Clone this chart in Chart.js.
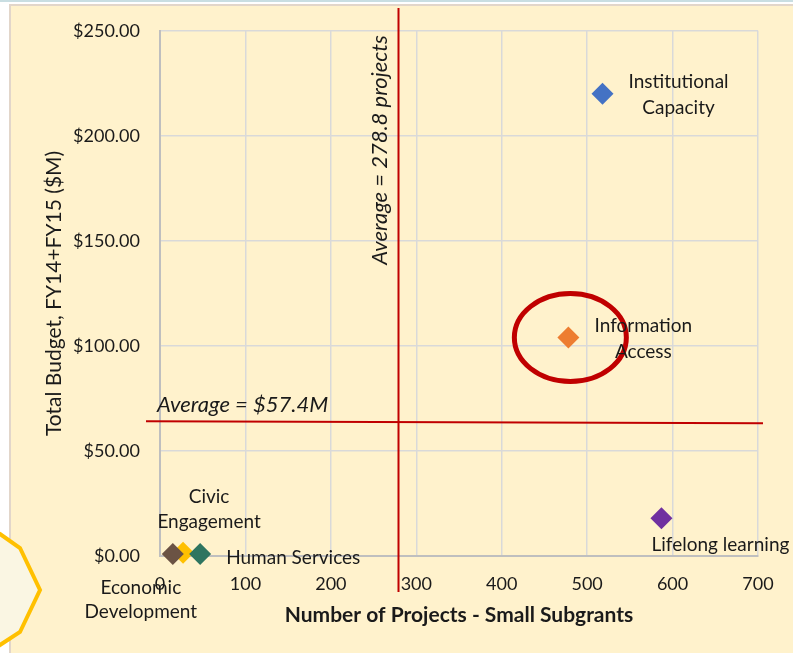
<!DOCTYPE html>
<html>
<head>
<meta charset="utf-8">
<script src="https://cdn.jsdelivr.net/npm/chart.js@4"></script>
<style>
  html, body { margin: 0; padding: 0; background: #fff; }
  #wrap { width: 793px; height: 653px; }
</style>
</head>
<body>
<div id="wrap"><canvas id="myChart"></canvas></div>
<script>
// data
let categories = ['Institutional Capacity', 'Information Access', 'Lifelong learning', 'Human Services', 'Economic Development', 'Civic Engagement'];
let projects = [518, 478, 587, 47, 15, 27];
let budget = [220, 104, 18, 1, 1, 1.5];
let colors = ['#4472C4', '#ED7D31', '#7030A0', '#2E7560', '#6B5344', '#FFC000'];
let xTicks = [0, 100, 200, 300, 400, 500, 600, 700];
let yTicks = [0, 50, 100, 150, 200, 250];
let avgProjects = 278.8;
let avgBudgetLabel = 'Average = $57.4M';
let avgBudgetDrawnAt = 63.7; // where the line actually sits in the picture

const FONT = 'Lato, "Open Sans", sans-serif';

// label placement next to each point: dx, and dy for each line
const labelPos = {
  'Institutional Capacity': { dx: 76, lines: [['Institutional', -12], ['Capacity', 14]], align: 'center' },
  'Information Access': { dx: 75, lines: [['Information', -12], ['Access', 14]], align: 'center' },
  'Lifelong learning': { dx: 59, lines: [['Lifelong learning', 27]], align: 'center' },
  'Economic Development': { dx: -32, lines: [['Economic', 34], ['Development', 58]], align: 'center' },
  'Civic Engagement': { dx: 26, lines: [['Civic', -56], ['Engagement', -31]], align: 'center' },
  'Human Services': { dx: 26, lines: [['Human Services', 4]], align: 'left' }
};

const backdrop = {
  id: 'backdrop',
  beforeDraw(chart) {
    const c = chart.ctx;
    c.save();
    c.fillStyle = '#ffffff';
    c.fillRect(0, 0, chart.width, chart.height);
    c.fillStyle = '#C9DEE2';
    c.fillRect(0, 0, chart.width, 2);
    c.fillStyle = '#E2D6CA';
    c.fillRect(9, 4, chart.width - 9, chart.height - 4);
    c.fillStyle = '#FFF2CC';
    c.fillRect(11, 6, chart.width - 11, chart.height - 6);
    c.restore();
  },
  afterDraw(chart) {
    const c = chart.ctx;
    c.save();
    // partial octagon shape from the slide at bottom left
    c.beginPath();
    c.moveTo(-20, 522);
    c.lineTo(0, 534);
    c.lineTo(20, 548);
    c.lineTo(40, 590);
    c.lineTo(20, 632);
    c.lineTo(0, 645);
    c.lineTo(-20, 660);
    c.closePath();
    c.fillStyle = '#FAF6E3';
    c.fill();
    c.lineWidth = 4;
    c.strokeStyle = '#FFC000';
    c.stroke();
    c.restore();
  }
};

const annotations = {
  id: 'annotations',
  afterDatasetsDraw(chart) {
    const c = chart.ctx;
    const xs = chart.scales.x, ys = chart.scales.y;
    c.save();
    // average lines
    c.strokeStyle = '#C00000';
    c.lineWidth = 2;
    const vx = Math.round(xs.getPixelForValue(avgProjects)) + 0.5;
    c.beginPath();
    c.moveTo(vx, 8);
    c.lineTo(vx, 592);
    c.stroke();
    const hy = ys.getPixelForValue(avgBudgetDrawnAt);
    c.beginPath();
    c.moveTo(146, hy - 1);
    c.lineTo(763, hy + 1);
    c.stroke();

    c.fillStyle = '#1a1a1a';
    c.font = 'italic 22px ' + FONT;
    c.textAlign = 'left';
    c.textBaseline = 'middle';
    c.fillText(avgBudgetLabel, 157, hy - 17);

    c.save();
    c.translate(vx - 19, 150);
    c.rotate(-Math.PI / 2);
    c.textAlign = 'center';
    c.fillText('Average = ' + avgProjects + ' projects', 0, 0);
    c.restore();

    // red hand-drawn circle around Information Access
    const ix = xs.getPixelForValue(projects[1]);
    const iy = ys.getPixelForValue(budget[1]);
    c.beginPath();
    c.ellipse(ix + 2, iy, 56, 44, 0, 0, Math.PI * 2);
    c.strokeStyle = '#C00000';
    c.lineWidth = 5;
    c.stroke();

    // data labels
    c.font = '19px ' + FONT;
    c.fillStyle = '#1a1a1a';
    categories.forEach((name, i) => {
      const p = labelPos[name];
      const px = xs.getPixelForValue(projects[i]);
      const py = ys.getPixelForValue(budget[i]);
      c.textAlign = p.align;
      p.lines.forEach(([txt, dy]) => c.fillText(txt, px + p.dx, py + dy));
    });
    c.restore();
  }
};

const ctx = document.getElementById('myChart').getContext('2d');
const chart = new Chart(ctx, {
  type: 'scatter',
  data: {
    datasets: categories.map((name, i) => ({
      label: name,
      data: [{ x: projects[i], y: budget[i] }],
      backgroundColor: colors[i],
      borderColor: colors[i],
      pointStyle: 'rectRot',
      pointRadius: 11,
      pointHoverRadius: 11,
      borderWidth: 0,
      clip: false
    }))
  },
  options: {
    responsive: true,
    maintainAspectRatio: false,
    animation: false,
    layout: { padding: { left: 10, top: 30, right: 35, bottom: 0 } },
    plugins: { legend: { display: false }, tooltip: { enabled: false } },
    scales: {
      x: {
        type: 'linear',
        min: 0, max: 700,
        afterBuildTicks: s => { s.ticks = xTicks.map(v => ({ value: v })); },
        afterFit: s => { s.height = 653 - 556; },
        grid: { color: '#D9D9D9', lineWidth: 1.5, drawTicks: false },
        border: { color: '#BFBFBF', width: 2 },
        ticks: { padding: 17, color: '#1a1a1a', font: { family: FONT, size: 18 }, maxRotation: 0 },
        title: {
          display: true,
          text: 'Number of Projects - Small Subgrants',
          color: '#1a1a1a',
          font: { family: FONT, size: 21, weight: 'bold' },
          padding: { top: 0, bottom: 25 }
        }
      },
      y: {
        type: 'linear',
        min: 0, max: 250,
        afterBuildTicks: s => { s.ticks = yTicks.map(v => ({ value: v })); },
        afterFit: s => { s.width = 150; },
        grid: { color: '#D9D9D9', lineWidth: 1.5, drawTicks: false },
        border: { color: '#BFBFBF', width: 2 },
        ticks: {
          padding: 20, color: '#1a1a1a', font: { family: FONT, size: 18 },
          callback: v => '$' + v.toFixed(2)
        },
        title: {
          display: true,
          text: 'Total Budget, FY14+FY15 ($M)',
          color: '#1a1a1a',
          font: { family: FONT, size: 21 },
          padding: { top: 32, bottom: 0 }
        }
      }
    }
  },
  plugins: [backdrop, annotations]
});
</script>
</body>
</html>
